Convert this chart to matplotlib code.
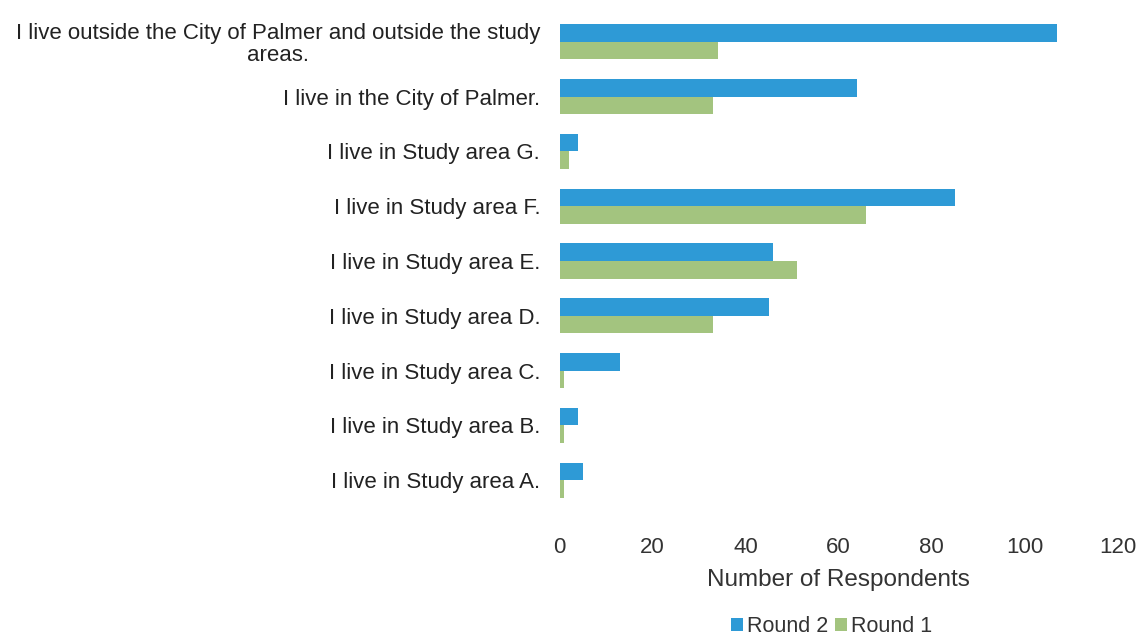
import matplotlib.pyplot as plt
import numpy as np

categories = [
    "I live in Study area A.",
    "I live in Study area B.",
    "I live in Study area C.",
    "I live in Study area D.",
    "I live in Study area E.",
    "I live in Study area F.",
    "I live in Study area G.",
    "I live in the City of Palmer.",
    "I live outside the City of Palmer and outside the study\nareas.",
]
round2 = [5, 4, 13, 45, 46, 85, 4, 64, 107]
round1 = [1, 1, 1, 33, 51, 66, 2, 33, 34]
xticks = [0, 20, 40, 60, 80, 100, 120]

blue = "#2E9AD6"
green = "#A3C47F"

plt.rcParams['font.family'] = ['Liberation Sans', 'DejaVu Sans']

fig = plt.figure(figsize=(11.42, 6.42), dpi=100)
ax = fig.add_axes([0.49, 0.201, 0.4886, 0.785])

y = np.arange(len(categories))
h = 0.32
ax.barh(y + h / 2, round2, height=h, color=blue, label="Round 2")
ax.barh(y - h / 2, round1, height=h, color=green, label="Round 1")

ax.set_xlim(0, 120)
ax.set_ylim(-0.6, len(categories) - 0.4)
ax.set_xticks(xticks)
ax.set_xticklabels([str(t) for t in xticks], fontsize=16, color="#333333")
ax.set_yticks(y)
ax.set_yticklabels(categories, fontsize=16, color="#222222",
                   multialignment="center", linespacing=1.05)
ax.tick_params(length=0)
ax.tick_params(axis="x", pad=17)
ax.tick_params(axis="y", pad=14)
for s in ax.spines.values():
    s.set_visible(False)

ax.set_xlabel("Number of Respondents", fontsize=17.5, color="#333333", labelpad=8)

# legend sits centred under the axis title, near the bottom edge
fig.legend(loc="center", bbox_to_anchor=(0.728, 0.024), ncol=2, frameon=False,
           fontsize=15.5, handlelength=0.55, handleheight=0.55, handletextpad=0.2,
           columnspacing=0.3, labelcolor="#333333", borderpad=0.1)

fig.savefig("out.png", dpi=100)
